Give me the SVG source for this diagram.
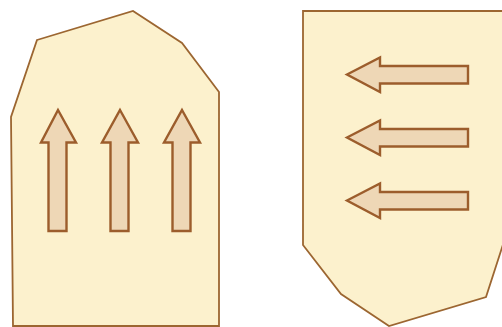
<svg xmlns="http://www.w3.org/2000/svg" width="502" height="327" viewBox="0 0 502 327">
<style>
.body{fill:#fcf1cd;stroke:#9c6631;stroke-width:1.8;stroke-linejoin:miter}
.arr{fill:#eed7b6;stroke:#9c5d2c;stroke-width:2.4;stroke-linejoin:miter}
</style>
<rect width="502" height="327" fill="#ffffff"/>
<g id="left-block">
<polygon class="body" points="37,40 133,11 182,43 219,92 219,326 13,326 11,117"/>
</g>
<g id="up-arrows">
<polygon class="arr" points="58,110 76,142.5 66.5,142.5 66.5,231 48.5,231 48.5,142.5 41,142.5"/>
<polygon class="arr" points="120,110 138,142.5 128.5,142.5 128.5,231 110.5,231 110.5,142.5 102,142.5"/>
<polygon class="arr" points="182,110 200,142.5 190.5,142.5 190.5,231 172.5,231 172.5,142.5 164,142.5"/>
</g>
<g id="right-block">
<polygon class="body" points="303,11 510,11 510,223 486,297 389,326 341,294 303,245"/>
</g>
<g id="left-arrows">
<polygon class="arr" points="347,74.5 380,57.5 380,66 468,66 468,83.5 380,83.5 380,92"/>
<polygon class="arr" points="347,137.5 380,120.5 380,129 468,129 468,146.5 380,146.5 380,155"/>
<polygon class="arr" points="347,200.5 380,183.5 380,192 468,192 468,209.5 380,209.5 380,218"/>
</g>
</svg>
